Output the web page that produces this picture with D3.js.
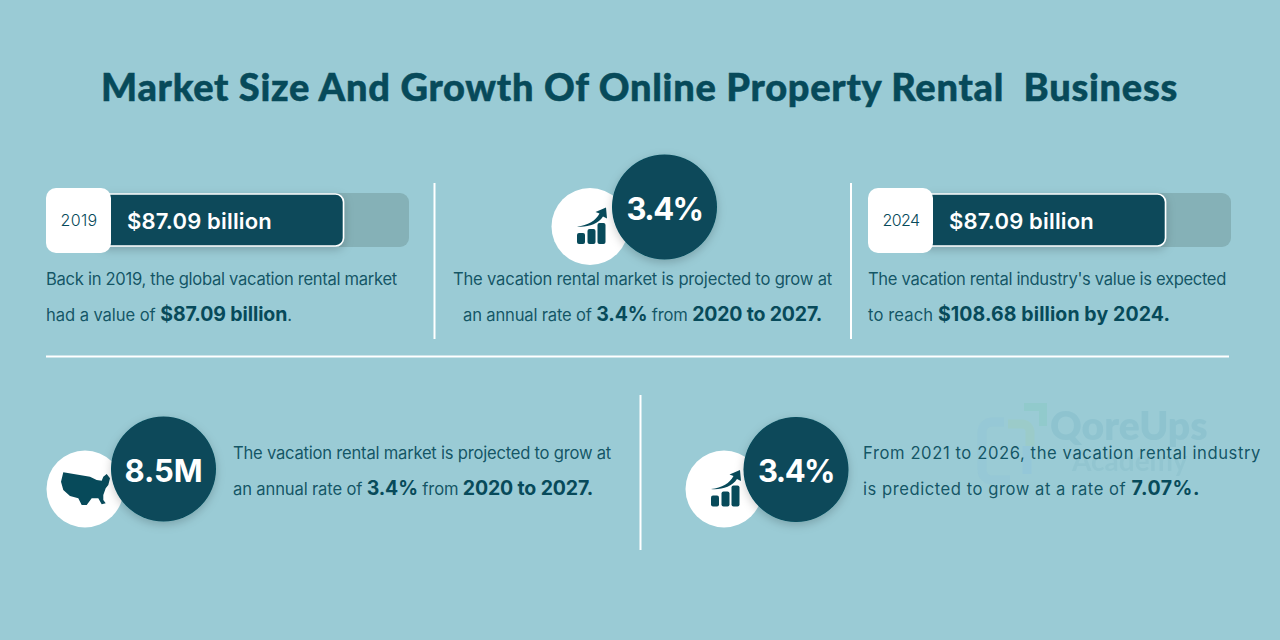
<!DOCTYPE html>
<html><head><meta charset="utf-8">
<script src="https://cdn.jsdelivr.net/npm/d3@7"></script>
<style>html,body{margin:0;padding:0;background:#9acbd5}svg{display:block}</style>
</head><body><svg id="c" width="1280" height="640"></svg>
<script>
const titleText = "Market Size And Growth Of Online Property Rental  Business";
const barYears = ["2019", "2024"];
const barAmounts = ["$87.09 billion", "$87.09 billion"];
const bubbleValues = ["3.4%", "8.5M", "3.4%"];
const bubbleWidths = [76,78,76];
const bubbleIcons = ["growth", "usa", "growth"];
const paragraphLines = [
  [["Back in 2019, the global vacation rental market",0]],
  [["had a value of ",0],["$87.09 billion",1],[".",0]],
  [["The vacation rental market is projected to grow at",0]],
  [["an annual rate of ",0],["3.4%",1],[" from ",0],["2020 to 2027.",1]],
  [["The vacation rental industry's value is expected",0]],
  [["to reach ",0],["$108.68 billion by 2024.",1]],
  [["The vacation rental market is projected to grow at",0]],
  [["an annual rate of ",0],["3.4%",1],[" from ",0],["2020 to 2027.",1]],
  [["From 2021 to 2026, the vacation rental industry",0]],
  [["is predicted to grow at a rate of ",0],["7.07%.",1]]
];
const lineBoxes = [[46,397,285],[46,292,321],[453,832,285],[463,822,321],[868,1226,285],[868,1170,321],[233,611,459],[233,593,495],[863,1261,459],[863,1200,495]];
const barOffsets = [0,822];
const bubblePos = [[590,226.5,664.5,207,52.5],[85,489,163.5,469,52.5],[724,489,796,469.5,52.5]];
const usaOutline = [[-21.7,-16.7],[5,-12.3],[11.7,-9],[16.7,-8.3],[18.3,-12.3],[21.7,-15],[25,-10.7],[23.3,-4],[20.7,-0.7],[18.3,6],[18.3,11],[20.7,14.3],[16.7,15.3],[13.3,9.3],[6.7,9.3],[1.7,16],[-3.3,16],[-6.7,9.3],[-15,7],[-21.7,1],[-24,-7.3]];

const dark="#074a5a", white="#fff";
const bodyFont="Inter, Lato, sans-serif", titleFont="Lato, sans-serif";
const svg=d3.select("#c");
const defs=svg.append("defs");
const shadow=defs.append("filter").attr("id","sh").attr("x","-30%").attr("y","-30%").attr("width","160%").attr("height","170%");
shadow.append("feDropShadow").attr("dx",0).attr("dy",3).attr("stdDeviation",5).attr("flood-color","#000").attr("flood-opacity",.2);
const blur=defs.append("filter").attr("id","wm");
blur.append("feGaussianBlur").attr("stdDeviation",.6);

svg.append("rect").attr("width",1280).attr("height",640).attr("fill","#9acbd5");

// watermark
const wm=svg.append("g").attr("filter","url(#wm)").attr("opacity",.75);
wm.append("text").attr("x",1050).attr("y",440).attr("font-family",titleFont).attr("font-weight",800).attr("font-size",39).attr("fill","#8bc1ce").text("QoreUps");
wm.append("text").attr("x",1072).attr("y",471).attr("font-family",titleFont).attr("font-weight",700).attr("font-size",28).attr("fill","#90c4cf").text("Academy");
wm.append("path").attr("d","M1024 407h19v19").attr("fill","none").attr("stroke","#8fcac9").attr("stroke-width",8);
wm.append("path").attr("d","M1010 480h-18a10 10 0 0 1-10-10v-38a10 10 0 0 1 10-10h12").attr("fill","none").attr("stroke","#93c4d6").attr("stroke-width",9).attr("opacity",.7);
wm.append("path").attr("d","M1008 424h14a8 8 0 0 1 8 8v14").attr("fill","none").attr("stroke","#9cccc6").attr("stroke-width",9);
wm.append("path").attr("d","M1027 446v28").attr("fill","none").attr("stroke","#93c6da").attr("stroke-width",9);

function fit(sel,target){
  const len=sel.node().getComputedTextLength();
  const n=sel.text().length;
  sel.attr("letter-spacing",(target-len)/n);
}
// title
const t=svg.append("text").attr("x",101).attr("y",101).attr("font-family",titleFont).attr("font-weight",900).attr("font-size",38).attr("fill",dark).attr("stroke",dark).attr("stroke-width",.5).style("white-space","pre").text(titleText);
fit(t,1077);

// rules
const rules=[[434.5,183,434.5,339],[851,183,851,339],[46,356.5,1229,356.5],[640.5,395,640.5,550]];
svg.selectAll("line.rule").data(rules).join("line").attr("class","rule")
 .attr("x1",d=>d[0]).attr("y1",d=>d[1]).attr("x2",d=>d[2]).attr("y2",d=>d[3]).attr("stroke",white).attr("stroke-width",2);

// progress pills
const bars=svg.selectAll("g.bar").data(barYears).join("g").attr("class","bar").attr("transform",(d,i)=>`translate(${barOffsets[i]},0)`);
bars.append("rect").attr("x",46).attr("y",193).attr("width",363).attr("height",54).attr("rx",9).attr("fill","#85b1b7");
bars.append("rect").attr("x",100).attr("y",194).attr("width",243.5).attr("height",52).attr("rx",8).attr("fill",dark).attr("stroke",white).attr("stroke-width",1.6).attr("filter","url(#sh)");
bars.append("rect").attr("x",46).attr("y",188).attr("width",65).attr("height",65).attr("rx",10).attr("fill",white);
bars.append("text").attr("x",79).attr("y",226).attr("text-anchor","middle").attr("font-family",bodyFont).attr("font-weight",300).attr("font-size",16).attr("fill",dark).text(d=>d).each(function(){fit(d3.select(this),37)});
bars.append("text").attr("x",127).attr("y",229).attr("font-family",bodyFont).attr("font-weight",600).attr("font-size",22).attr("fill",white).text((d,i)=>barAmounts[i]).each(function(){fit(d3.select(this),145)});

// bubbles
const bub=svg.selectAll("g.bub").data(bubbleValues).join("g").attr("class","bub");
bub.append("circle").attr("cx",(d,i)=>bubblePos[i][0]).attr("cy",(d,i)=>bubblePos[i][1]).attr("r",38.5).attr("fill",white);
const usaLine=d3.line().curve(d3.curveLinearClosed);
bub.each(function(d,i){
  const [cx,cy]=bubblePos[i];
  const g=d3.select(this).append("g").attr("transform",`translate(${cx},${cy})`).attr("fill",dark);
  if(bubbleIcons[i]==="growth"){
    g.selectAll("rect").data([[-13,6.5,8,11],[-2.5,2.5,8,15],[7.5,-3.5,8,21]]).join("rect")
      .attr("x",b=>b[0]).attr("y",b=>b[1]).attr("width",b=>b[2]).attr("height",b=>b[3]).attr("rx",2);
    g.append("path").attr("d","M-13 0C-2 -1 6 -6 9.5 -13L5.5 -14.5L16 -19L17 -8L13 -10C8 -2 -3 1 -13 0Z");
  } else {
    g.append("path").attr("d",usaLine(usaOutline));
  }
});
bub.append("circle").attr("cx",(d,i)=>bubblePos[i][2]).attr("cy",(d,i)=>bubblePos[i][3]).attr("r",(d,i)=>bubblePos[i][4]).attr("fill",dark).attr("filter","url(#sh)");
bub.append("text").attr("x",(d,i)=>bubblePos[i][2]).attr("y",(d,i)=>bubblePos[i][3]+12.5).attr("text-anchor","middle").attr("font-family",bodyFont).attr("font-weight",700).attr("font-size",31).attr("fill",white).text(d=>d).each(function(d,i){fit(d3.select(this),bubbleWidths[i])});

// paragraphs
const para=svg.selectAll("text.p").data(paragraphLines).join("text").attr("class","p")
 .attr("x",(d,i)=>lineBoxes[i][0]).attr("y",(d,i)=>lineBoxes[i][2]).attr("font-family",bodyFont).attr("fill",dark).style("white-space","pre");
para.each(function(d,i){
  const s=d3.select(this);
  s.selectAll("tspan").data(d).join("tspan")
   .attr("font-size",p=>p[1]?19.5:16.6).attr("font-weight",p=>p[1]?700:400).attr("fill-opacity",p=>p[1]?1:.92).text(p=>p[0]);
  fit(s,lineBoxes[i][1]-lineBoxes[i][0]);
});
</script></body></html>
